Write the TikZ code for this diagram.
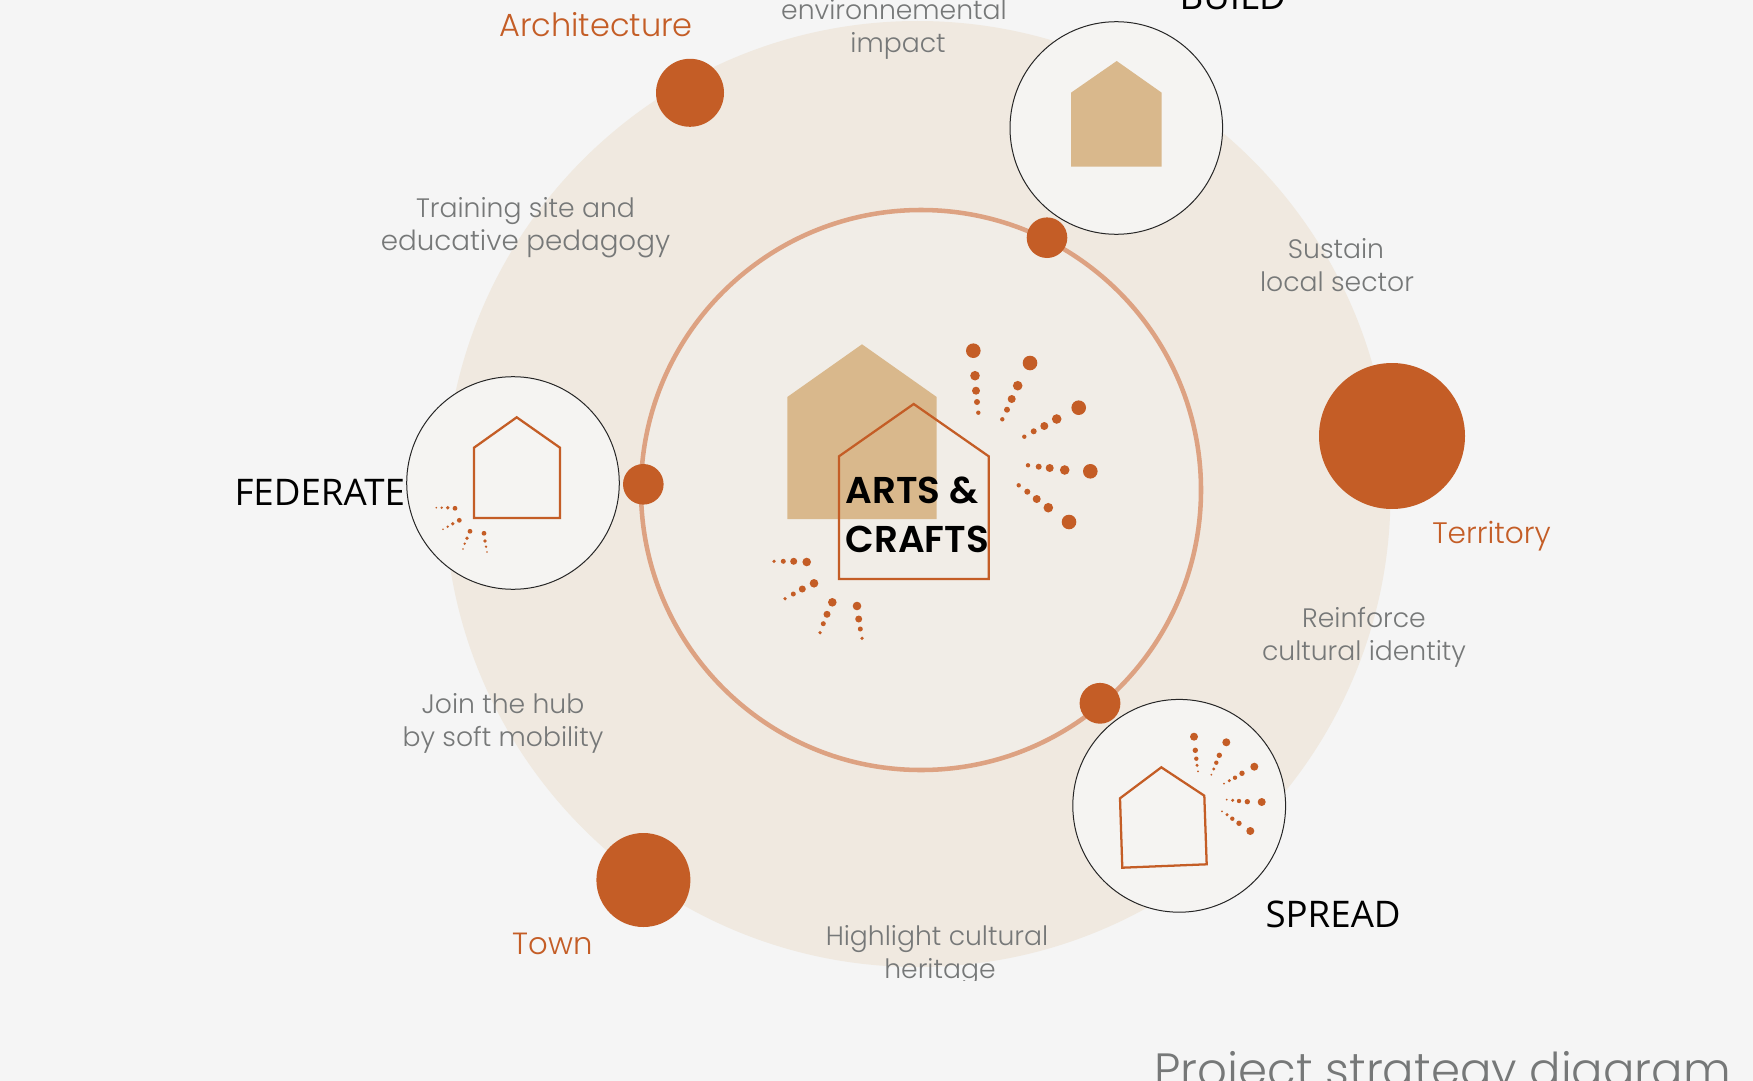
\documentclass[tikz,border=0pt]{standalone}
\usepackage{fontspec}
\setmainfont{Poppins}
\newfontfamily\gothicfont{Poppins Light}
\newfontfamily\boldgothicfont{Poppins SemiBold}
\newfontfamily\labelfont{Open Sans}

\definecolor{pagebg}{RGB}{245,245,245}
\definecolor{outerring}{RGB}{240,233,224}
\definecolor{innerdisc}{RGB}{241,237,231}
\definecolor{ringline}{RGB}{221,162,130}
\definecolor{rust}{RGB}{196,93,38}
\definecolor{tan}{RGB}{217,184,140}
\definecolor{discfill}{RGB}{245,244,242}
\definecolor{greytext}{RGB}{118,120,120}

\tikzset{
	every picture/.style={line width=0.75pt},
	stage/.style={draw=black!85,line width=0.75pt,fill=discfill},
	houseline/.style={draw=rust,line width=1.7pt,line join=miter},
	note/.style={anchor=base,inner sep=0pt,text=greytext,font=\gothicfont\fontsize{20}{24}\selectfont},
	wide note/.style={note,font=\gothicfont\fontsize{20.8}{24}\selectfont},
	scale label/.style={anchor=base,inner sep=0pt,text=rust,font=\gothicfont\fontsize{22.2}{26}\selectfont},
	action/.style={anchor=base west,inner sep=0pt,text=black,font=\labelfont\fontsize{27.5}{30}\selectfont},
	logo/.style={anchor=base west,inner sep=0pt,text=black,font=\boldgothicfont\fontsize{28}{34}\selectfont},
}

\begin{document}
\begin{tikzpicture}[x=0.75pt,y=0.75pt,yscale=-1,xscale=1]
	\useasboundingbox (0,0) rectangle (1753,1081);
	\clip (0,0) rectangle (1753,1081);
	\fill [pagebg] (0,0) rectangle (1753,1081);

	\fill [outerring] (917.5,494) circle (473);
	\draw [draw=ringline,fill=innerdisc,line width=3.4pt] (921,490) circle (280);

	\draw [stage] (1116.3,128) circle (106.3);
	\draw [stage] (513,483) circle (106.3);
	\draw [stage] (1179.2,805.8) circle (106.4);

	\fill [rust] (690,92.8) circle (34);
	\fill [rust] (1392,436) circle (73);
	\fill [rust] (643.4,880) circle (47);
	\fill [rust] (1047,237.7) circle (20.3);
	\fill [rust] (643.3,484.3) circle (20.3);
	\fill [rust] (1100,703.3) circle (20.4);

	% houses
	\fill [tan] (787.3,519) -- (787.3,397) -- (862,344.3) -- (936.7,397) -- (936.7,519) -- cycle ;
	\draw [houseline] (839,579) -- (839,456.3) -- (913.7,404) -- (988.7,456.3) -- (988.7,579) -- cycle ;
	\fill [tan] (1071,166.7) -- (1071,92.7) -- (1116.7,61) -- (1161.7,92.7) -- (1161.7,166.7) -- cycle ;
	\draw [houseline] (474,518) -- (474,447.7) -- (516.7,417.3) -- (560,447.7) -- (560,518) -- cycle ;
	\draw [houseline] (1122.3,867.7) -- (1120,798.3) -- (1161.3,767.3) -- (1204.3,795.7) -- (1206.7,864.3) -- cycle ;

	% centre rays
	\fill [rust] (973.3,350.7) circle (7.3) (975,375.7) circle (4.8) (976,390.7) circle (4) (977,402) circle (3) (978.3,412.7) circle (2.2);
	\fill [rust] (1030,363) circle (7.3) (1017.7,385.7) circle (4.8) (1011.7,399) circle (4) (1007,409.7) circle (3) (1002.3,419.3) circle (2.2);
	\fill [rust] (1078.7,407.7) circle (7.3) (1056.7,419) circle (4.8) (1044.3,426) circle (4) (1033.7,431.3) circle (3) (1024.3,436.7) circle (2.2);
	\fill [rust] (1090.3,471.3) circle (7.3) (1064.7,470) circle (4.8) (1049.7,468) circle (4) (1038.7,466.7) circle (3) (1028,465.3) circle (2.2);
	\fill [rust] (1069,522) circle (7.3) (1048.3,507.7) circle (4.8) (1036.7,499) circle (4) (1027.3,491.7) circle (3) (1018.7,485.3) circle (2.2);
	\fill [rust] (806.7,562) circle (4.3) (793.7,561.3) circle (3.5) (783.3,561.3) circle (2.5) (774,561.3) circle (1.8);
	\fill [rust] (814,583.3) circle (4.3) (802.3,589) circle (3.5) (793.3,594) circle (2.5) (785,598.7) circle (1.8);
	\fill [rust] (832.3,602.3) circle (4.3) (827,614.3) circle (3.5) (823.3,623.7) circle (2.5) (820,632.7) circle (1.8);
	\fill [rust] (857,606) circle (4.3) (858.7,619) circle (3.5) (860.3,629) circle (2.5) (862,638.3) circle (1.8);

	% rays of the lower right house
	\fill [rust] (1194,736.7) circle (4) (1195.3,750.3) circle (2.7) (1196.3,758.7) circle (2.2) (1197,765.3) circle (1.7) (1198,771.3) circle (1);
	\fill [rust] (1226.3,742.3) circle (4) (1219.3,755.3) circle (2.7) (1216.3,762.7) circle (2.2) (1213.7,769) circle (1.7) (1211.3,774.7) circle (1);
	\fill [rust] (1254.3,766.7) circle (4) (1242,773.3) circle (2.7) (1235,777.7) circle (2.2) (1229.3,780.7) circle (1.7) (1224,783.7) circle (1);
	\fill [rust] (1261.7,802) circle (4) (1247.3,801.7) circle (2.7) (1239,801) circle (2.2) (1232.7,800.3) circle (1.7) (1226.7,799.7) circle (1);
	\fill [rust] (1250.3,831) circle (4) (1239,823.3) circle (2.7) (1232.3,818.7) circle (2.2) (1227,814.7) circle (1.7) (1222,811.3) circle (1);

	% rays of the left house
	\fill [rust] (455,508.3) circle (2.4) (447.7,507.7) circle (1.9) (441.7,507.7) circle (1.3) (436.3,507.7) circle (.9);
	\fill [rust] (459.3,520.3) circle (2.4) (452.7,523.7) circle (1.9) (447.7,526.7) circle (1.3) (443,529.3) circle (.9);
	\fill [rust] (470,531.3) circle (2.4) (467,538.3) circle (1.9) (464.7,543.7) circle (1.3) (463,549) circle (.9);
	\fill [rust] (484,533.3) circle (2.4) (485,541) circle (1.9) (486,546.7) circle (1.3) (487,552) circle (.9);

	\node [logo] (arts) at (845,503) {ARTS \&};
	\node [logo] (crafts) at (845,552) {CRAFTS};

	\node [action] (federate) at (234,505) {FEDERATE};
	\node [action] (spread) at (1265,927) {SPREAD};
	\node [action] (build) at (1179,10) {BUILD};

	\node [scale label,font=\gothicfont\fontsize{24}{26}\selectfont] (architecture) at (596,37) {Architecture};
	\node [scale label] (territory) at (1491.5,543) {Territory};
	\node [scale label,font=\gothicfont\fontsize{23}{26}\selectfont] (town) at (552.6,954) {Town};

	\node [note] (envone) at (894,20) {environnemental};
	\node [note] (envtwo) at (898,53) {impact};
	\node [note] (sustone) at (1336,258) {Sustain};
	\node [note] (susttwo) at (1337,291) {local sector};
	\node [note] (trainone) at (525.5,217) {Training site and};
	\node [wide note] (traintwo) at (525.5,250) {educative pedagogy};
	\node [note] (reinfone) at (1364,627) {Reinforce};
	\node [note] (reinftwo) at (1364,660) {cultural identity};
	\node [note] (joinone) at (503,713) {Join the hub};
	\node [note] (jointwo) at (503,746) {by soft mobility};
	\node [note] (highone) at (937,945) {Highlight cultural};
	\node [note] (hightwo) at (940,978) {heritage};

	\fill [pagebg] (700,981) rectangle (1100,1000);
	\node [anchor=base west,inner sep=0pt,text=greytext,font=\gothicfont\fontsize{35}{40}\selectfont] (title) at (1154,1086) {Project strategy diagram};
\end{tikzpicture}
\end{document}
